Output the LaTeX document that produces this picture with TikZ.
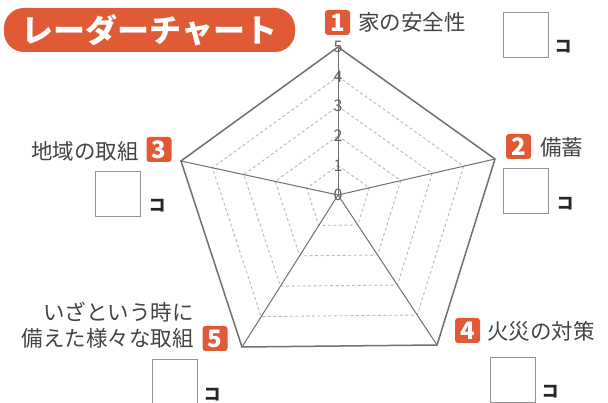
\documentclass[tikz,border=0pt]{standalone}
\usepackage{fontspec}
\setmainfont{Noto Sans CJK JP}
\usetikzlibrary{calc}
\definecolor{orng}{HTML}{E05A35}
\definecolor{txt}{HTML}{444444}
\definecolor{gridc}{HTML}{707070}
\begin{document}
\begin{tikzpicture}[x=1pt,y=-1pt,
  badge/.style={fill=orng,rounded corners=3pt,minimum width=25pt,minimum height=25pt,inner sep=0pt,text=white,font=\fontsize{24}{24}\selectfont\bfseries},
  lbl/.style={text=txt,font=\fontsize{21.5}{26}\selectfont,inner sep=0pt},
  ansbox/.style={draw=gray!85,line width=0.9pt,minimum width=45pt,minimum height=45pt,inner sep=0pt,fill=white},
  unitlbl/.style={font=\fontsize{17}{17}\selectfont\bfseries,text=black!85,inner sep=0pt},
  outerline/.style={draw=gridc,line width=1.5pt,line join=miter},
  spoke/.style={draw=gridc,line width=1pt},
  gridline/.style={draw=gray!55,line width=0.9pt,dash pattern=on 3pt off 2.5pt},
  axisnum/.style={text=gray!75!black,font=\fontsize{16}{16}\selectfont,inner sep=0pt}
]
\fill[white] (0,0) rectangle (608,403);
\useasboundingbox (0,0) rectangle (608,403);

% title
\node[fill=orng,rounded corners=20pt,minimum width=291pt,minimum height=44pt,inner sep=0pt,text=white,font=\fontsize{32}{32}\selectfont\bfseries] (title) at (149.5,30) {レーダーチャート};

% chart geometry
\coordinate (c) at (338,195);
\coordinate (v1) at (338,47);
\coordinate (v2) at (495,159);
\coordinate (v3) at (181,161);
\coordinate (v4) at (437,345);
\coordinate (v5) at (242,347);

% dashed grid
\foreach \k in {0.2,0.4,0.6,0.8}{
  \draw[gridline] ($(c)!\k!(v1)$) -- ($(c)!\k!(v2)$) -- ($(c)!\k!(v4)$) -- ($(c)!\k!(v5)$) -- ($(c)!\k!(v3)$) -- cycle;
}
% spokes
\draw[spoke,line width=0.8pt] (c) -- (v1);
\draw[spoke] (c) -- (v2);
\draw[spoke] (c) -- (v3);
\draw[spoke] (c) -- (v4);
\draw[spoke] (c) -- (v5);
% outer
\draw[outerline] (v1) -- (v2) -- (v4) -- (v5) -- (v3) -- cycle;

% axis numbers
\node[axisnum] (n0) at (c) {0};
\node[axisnum] (n1) at ($(c)!0.2!(v1)$) {1};
\node[axisnum] (n2) at ($(c)!0.4!(v1)$) {2};
\node[axisnum] (n3) at ($(c)!0.6!(v1)$) {3};
\node[axisnum] (n4) at ($(c)!0.8!(v1)$) {4};
\node[axisnum] (n5) at (v1) {5};

% item 1
\node[badge] (b1) at (337.5,22.5) {1};
\node[lbl,anchor=west] (l1) at (358,22) {家の安全性};
\node[ansbox] (a1) at (525.5,34.5) {};
\node[unitlbl] (u1) at (563,47) {コ};

% item 2
\node[badge] (b2) at (518.5,146.5) {2};
\node[lbl,anchor=west] (l2) at (540,147) {備蓄};
\node[ansbox] (a2) at (525.5,191) {};
\node[unitlbl] (u2) at (565,204) {コ};

% item 3
\node[badge] (b3) at (159,149.5) {3};
\node[lbl,anchor=east] (l3) at (139,151) {地域の取組};
\node[ansbox] (a3) at (117.5,193.5) {};
\node[unitlbl] (u3) at (157,206) {コ};

% item 4
\node[badge] (b4) at (467.5,330.5) {4};
\node[lbl,anchor=west] (l4) at (487,331) {火災の対策};
\node[ansbox] (a4) at (512.5,379.5) {};
\node[unitlbl] (u4) at (550,392) {コ};

% item 5
\node[badge] (b5) at (215,338.5) {5};
\node[lbl,anchor=east,align=right] (l5) at (194,325) {いざという時に\\備えた様々な取組};
\node[ansbox] (a5) at (174.5,381.5) {};
\node[unitlbl] (u5) at (212,395) {コ};
\end{tikzpicture}
\end{document}
